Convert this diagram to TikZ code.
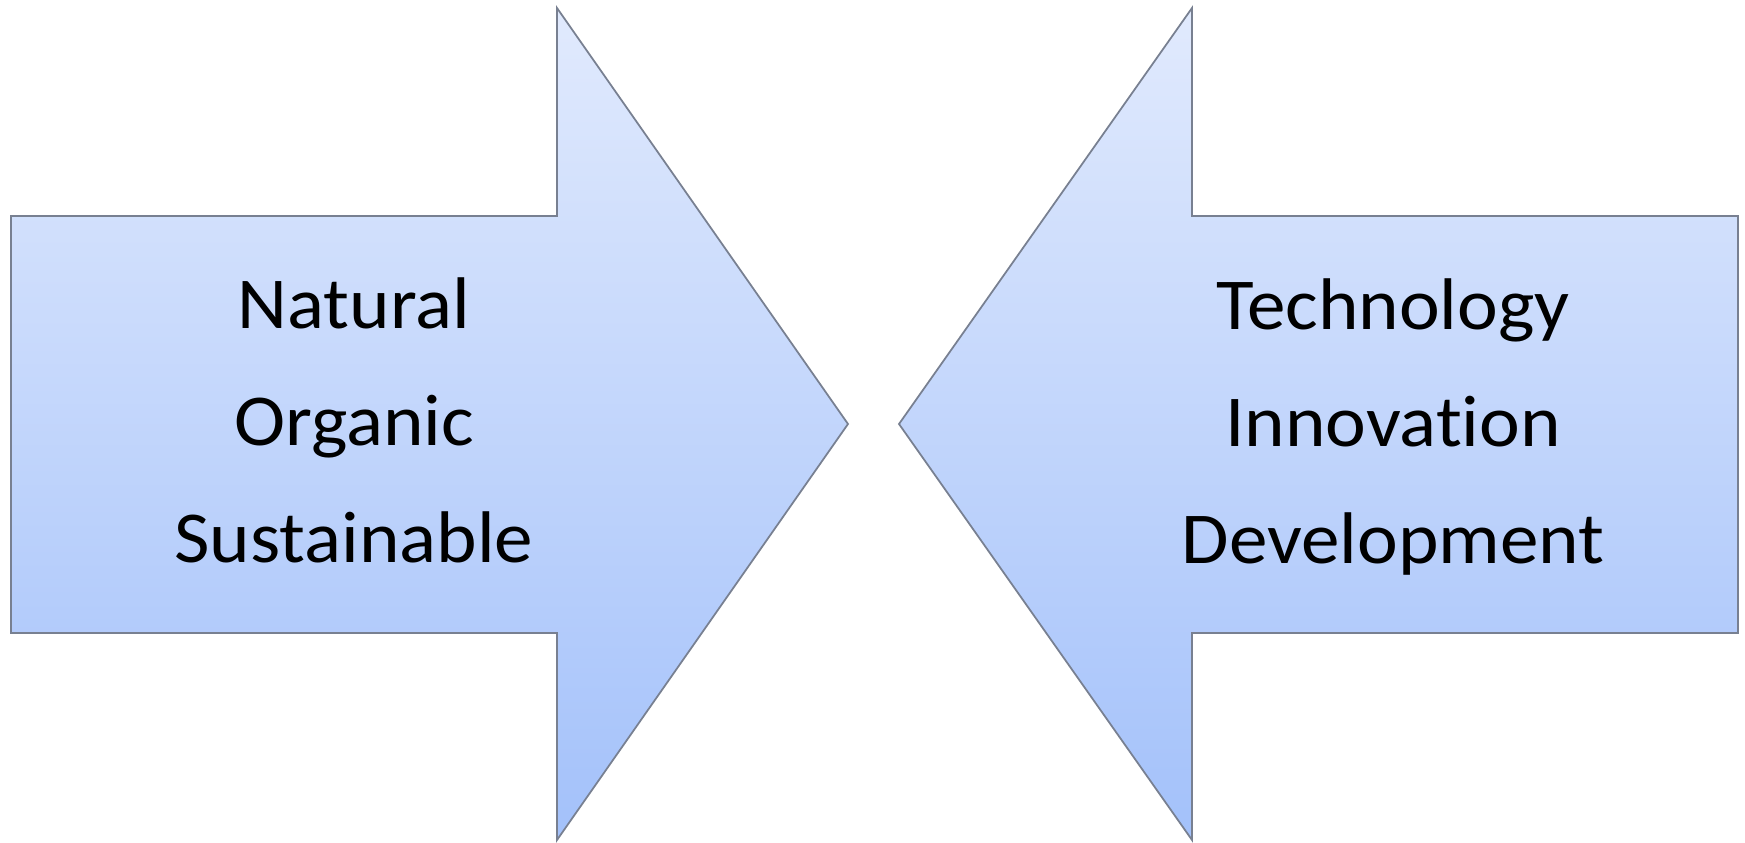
\documentclass[tikz,border=0pt]{standalone}
\usepackage{fontspec}
\setmainfont{Carlito}[Ligatures=NoCommon, FakeStretch=1.055]
\usepackage{tikz}
\usetikzlibrary{positioning}
\definecolor{arrowtop}{RGB}{225,234,253}
\definecolor{arrowbottom}{RGB}{163,193,250}
\definecolor{arrowedge}{RGB}{120,128,145}
\tikzset{
  arrowshape/.style={top color=arrowtop, bottom color=arrowbottom,
    draw=arrowedge, line width=0.5pt, line join=miter},
  arrowshadow/.style={fill=black, opacity=0.3},
  wordlist/.style={align=center, inner sep=0pt,
    font=\fontsize{20.8}{33.3}\selectfont},
}

\begin{document}
\begin{tikzpicture}[x=0.01cm, y=-0.01cm]
  \useasboundingbox (0,0) rectangle (1745,843);

  % Right-pointing arrow
  \coordinate (Lbt) at (11,216);   % body top-left
  \coordinate (Lbb) at (11,633);   % body bottom-left
  \coordinate (Lht) at (557,8);    % head top
  \coordinate (Lhb) at (557,840);  % head bottom
  \coordinate (Ltip) at (848,424); % tip

  % Left-pointing arrow
  \coordinate (Rbt) at (1738,216);
  \coordinate (Rbb) at (1738,633);
  \coordinate (Rht) at (1192,8);
  \coordinate (Rhb) at (1192,840);
  \coordinate (Rtip) at (899,424);

  % Shadows
  \fill[arrowshadow, xshift=0.03cm, yshift=-0.04cm]
    (Lbt) -- (Lht |- Lbt) -- (Lht) -- (Ltip) -- (Lhb) -- (Lhb |- Lbb)
    -- (Lbb) -- cycle;
  \fill[arrowshadow, xshift=0.03cm, yshift=-0.04cm]
    (Rbt) -- (Rht |- Rbt) -- (Rht) -- (Rtip) -- (Rhb) -- (Rhb |- Rbb)
    -- (Rbb) -- cycle;

  % Arrow bodies
  \path[arrowshape]
    (Lbt) -- (Lht |- Lbt) -- (Lht) -- (Ltip) -- (Lhb) -- (Lhb |- Lbb)
    -- (Lbb) -- cycle;
  \path[arrowshape]
    (Rbt) -- (Rht |- Rbt) -- (Rht) -- (Rtip) -- (Rhb) -- (Rhb |- Rbb)
    -- (Rbb) -- cycle;

  % Labels
  \node[wordlist] (nature) at (354,420)
    {Natural\\ Organic\\ Sustainable};
  \node[wordlist] (progress) at (1393,427)
    {Technology\\ Innovation\\ Development};
\end{tikzpicture}
\end{document}
